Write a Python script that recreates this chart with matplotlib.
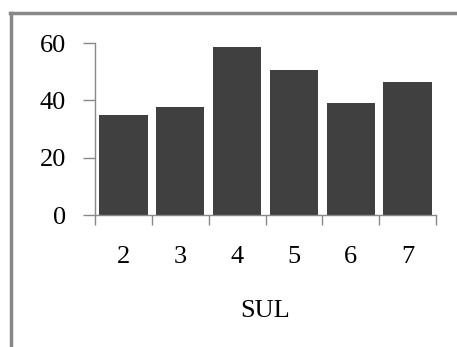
import numpy as np
import matplotlib.pyplot as plt
from matplotlib.lines import Line2D

categories = ['2', '3', '4', '5', '6', '7']
values = [35, 37.6, 58.5, 50.5, 39, 46.3]

plt.rcParams['font.family'] = ['Liberation Serif', 'DejaVu Serif']

fig = plt.figure(figsize=(4.57, 3.47), dpi=100)
ax = fig.add_axes([0.208, 0.380, 0.746, 0.496])

x = np.arange(len(categories))
ax.bar(x, values, width=0.85, color='#404040')

ax.set_xlim(-0.5, len(categories) - 0.5)
ax.set_ylim(0, 60)
ax.set_yticks([0, 20, 40, 60])

# category labels centred, tick marks on the boundaries
ax.set_xticks(x)
ax.set_xticklabels(categories)
ax.set_xticks(np.arange(-0.5, len(categories)), minor=True)
ax.tick_params(axis='x', which='major', length=0, pad=22, labelsize=19)
ax.tick_params(axis='x', which='minor', length=7, width=1, color='#888888')
ax.tick_params(axis='y', length=9, width=1, color='#888888', pad=12, labelsize=19)

for side in ['top', 'right']:
    ax.spines[side].set_visible(False)
for side in ['left', 'bottom']:
    ax.spines[side].set_color('#888888')
    ax.spines[side].set_linewidth(1)

ax.set_xlabel('SUL', fontsize=19, labelpad=23)

# outer frame, only top and left edges show
fig.add_artist(Line2D([0.023, 0.023], [0, 0.962], color='#888888', lw=2.5, transform=fig.transFigure))
fig.add_artist(Line2D([0.022, 1.0], [0.962, 0.962], color='#888888', lw=2.5, transform=fig.transFigure))

fig.savefig('out.png', dpi=100)
plt.close(fig)
